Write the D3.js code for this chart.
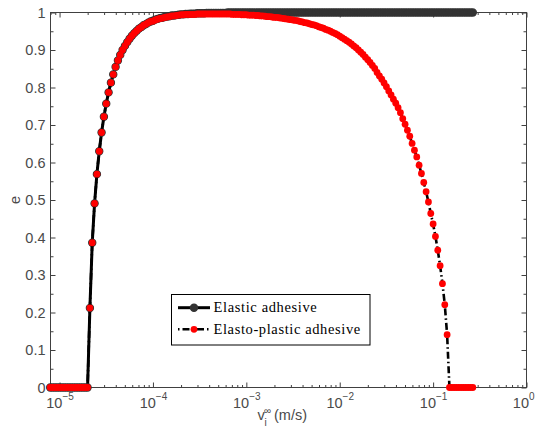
<!DOCTYPE html>
<html><head><meta charset="utf-8">
<script src="https://cdn.jsdelivr.net/npm/d3@7"></script>
<style>html,body{margin:0;padding:0;background:#fff;}svg{display:block;}</style>
</head><body>
<svg id="chart" width="536" height="430"></svg>
<script>
// log10 of impact velocity v_i (m/s)
const vExp = [-5.100,-5.075,-5.050,-5.025,-5.000,-4.975,-4.950,-4.925,-4.900,-4.875,
-4.850,-4.825,-4.800,-4.775,-4.750,-4.725,-4.700,-4.675,-4.650,-4.625,
-4.600,-4.575,-4.550,-4.525,-4.500,-4.475,-4.450,-4.425,-4.400,-4.375,
-4.350,-4.325,-4.300,-4.275,-4.250,-4.225,-4.200,-4.175,-4.150,-4.125,
-4.100,-4.075,-4.050,-4.025,-4.000,-3.975,-3.950,-3.925,-3.900,-3.875,
-3.850,-3.825,-3.800,-3.775,-3.750,-3.725,-3.700,-3.675,-3.650,-3.625,
-3.600,-3.575,-3.550,-3.525,-3.500,-3.475,-3.450,-3.425,-3.400,-3.375,
-3.350,-3.325,-3.300,-3.275,-3.250,-3.225,-3.200,-3.175,-3.150,-3.125,
-3.100,-3.075,-3.050,-3.025,-3.000,-2.975,-2.950,-2.925,-2.900,-2.875,
-2.850,-2.825,-2.800,-2.775,-2.750,-2.725,-2.700,-2.675,-2.650,-2.625,
-2.600,-2.575,-2.550,-2.525,-2.500,-2.475,-2.450,-2.425,-2.400,-2.375,
-2.350,-2.325,-2.300,-2.275,-2.250,-2.225,-2.200,-2.175,-2.150,-2.125,
-2.100,-2.075,-2.050,-2.025,-2.000,-1.975,-1.950,-1.925,-1.900,-1.875,
-1.850,-1.825,-1.800,-1.775,-1.750,-1.725,-1.700,-1.675,-1.650,-1.625,
-1.600,-1.575,-1.550,-1.525,-1.500,-1.475,-1.450,-1.425,-1.400,-1.375,
-1.350,-1.325,-1.300,-1.275,-1.250,-1.225,-1.200,-1.175,-1.150,-1.125,
-1.100,-1.075,-1.050,-1.025,-1.000,-0.975,-0.950,-0.925,-0.900,-0.875,
-0.850,-0.825,-0.800,-0.775,-0.750,-0.725,-0.700,-0.675,-0.650,-0.625,
-0.600,-0.575];

// coefficient of restitution, elastic adhesive
const eElastic = [0,0,0,0,0,0,0,0,0,0,
0,0,0,0,0,0,0,0.212,0.386,0.491,
0.569,0.630,0.680,0.722,0.757,0.787,0.813,0.835,0.855,0.872,
0.887,0.900,0.911,0.921,0.930,0.938,0.945,0.951,0.957,0.961,
0.966,0.969,0.973,0.976,0.978,0.981,0.983,0.985,0.986,0.988,
0.989,0.990,0.992,0.992,0.993,0.994,0.995,0.995,0.996,0.996,
0.997,0.997,0.997,0.998,0.998,0.998,0.998,0.999,0.999,0.999,
0.999,0.999,0.999,0.999,0.999,0.999,1,1,1,1,
1,1,1,1,1,1,1,1,1,1,
1,1,1,1,1,1,1,1,1,1,
1,1,1,1,1,1,1,1,1,1,
1,1,1,1,1,1,1,1,1,1,
1,1,1,1,1,1,1,1,1,1,
1,1,1,1,1,1,1,1,1,1,
1,1,1,1,1,1,1,1,1,1,
1,1,1,1,1,1,1,1,1,1,
1,1,1,1,1,1,1,1,1,1,
1,1,1,1,1,1,1,1,1,1,
1,1];

// coefficient of restitution, elasto-plastic adhesive
const eElastoPlastic = [0,0,0,0,0,0,0,0,0,0,
0,0,0,0,0,0,0,0.212,0.386,0.491,
0.569,0.630,0.680,0.722,0.757,0.787,0.813,0.835,0.855,0.872,
0.887,0.900,0.911,0.921,0.930,0.938,0.945,0.951,0.957,0.961,
0.966,0.969,0.973,0.976,0.977,0.980,0.982,0.984,0.985,0.987,
0.988,0.989,0.991,0.991,0.992,0.993,0.994,0.994,0.995,0.995,
0.995,0.995,0.995,0.996,0.996,0.996,0.996,0.996,0.996,0.996,
0.996,0.996,0.996,0.996,0.996,0.996,0.996,0.996,0.995,0.995,
0.995,0.995,0.994,0.994,0.994,0.993,0.993,0.993,0.992,0.992,
0.991,0.991,0.990,0.989,0.989,0.988,0.987,0.987,0.986,0.985,
0.984,0.983,0.982,0.981,0.980,0.979,0.978,0.976,0.975,0.973,
0.972,0.970,0.968,0.967,0.965,0.962,0.960,0.958,0.955,0.953,
0.950,0.947,0.944,0.941,0.937,0.933,0.929,0.925,0.921,0.916,
0.911,0.906,0.900,0.894,0.888,0.881,0.874,0.867,0.859,0.851,
0.840,0.831,0.822,0.812,0.802,0.791,0.780,0.769,0.758,0.746,
0.733,0.717,0.702,0.686,0.670,0.651,0.633,0.615,0.593,0.571,
0.547,0.522,0.495,0.464,0.436,0.403,0.366,0.325,0.277,0.221,
0.141,0,0,0,0,0,0,0,0,0,
0,0];

const seriesNames = ["Elastic adhesive", "Elasto-plastic adhesive"];
const xTickExps = [-5, -4, -3, -2, -1, 0];
const yTicks = [0, 0.1, 0.2, 0.3, 0.4, 0.5, 0.6, 0.7, 0.8, 0.9, 1];
const yTickLabels = ["0","0.1","0.2","0.3","0.4","0.5","0.6","0.7","0.8","0.9","1"];
const yMinorTicks = [0.05, 0.15, 0.25, 0.35, 0.45, 0.55, 0.65, 0.75, 0.85, 0.95];
const xDomain = [8e-6, 1];
const yDomain = [0, 1];

const svg = d3.select("#chart");
const W = 536;
const L = 50.5, R = 526.5, T = 12.5, B = 387.5;
const x = d3.scaleLog().domain(xDomain).range([L, R]);
const y = d3.scaleLinear().domain(yDomain).range([B, T]);
const axisColor = "#404040";
const labelColor = "#4a4a4a";
const tickFont = "'Liberation Sans', Arial, sans-serif";
const fs = 14.5;

const majorX = xTickExps.map(p => Math.pow(10, p));
const minorX = x.ticks().filter(v => !majorX.some(m => Math.abs(m - v) / v < 1e-9));

function styleAxis(g) {
  g.select(".domain").remove();
  g.selectAll("line").attr("stroke", axisColor).attr("stroke-width", 1);
  g.selectAll("text").remove();
}
const noLab = () => "";
svg.append("g").attr("transform", `translate(0,${B})`).call(d3.axisBottom(x).tickValues(majorX).tickSize(-5).tickFormat(noLab)).call(styleAxis);
svg.append("g").attr("transform", `translate(0,${B})`).call(d3.axisBottom(x).tickValues(minorX).tickSize(-2.5).tickFormat(noLab)).call(styleAxis);
svg.append("g").attr("transform", `translate(0,${T})`).call(d3.axisTop(x).tickValues(majorX).tickSize(-5).tickFormat(noLab)).call(styleAxis);
svg.append("g").attr("transform", `translate(0,${T})`).call(d3.axisTop(x).tickValues(minorX).tickSize(-2.5).tickFormat(noLab)).call(styleAxis);
svg.append("g").attr("transform", `translate(${L},0)`).call(d3.axisLeft(y).tickValues(yTicks).tickSize(-5).tickFormat(noLab)).call(styleAxis);
svg.append("g").attr("transform", `translate(${L},0)`).call(d3.axisLeft(y).tickValues(yMinorTicks).tickSize(-3).tickFormat(noLab)).call(styleAxis);
svg.append("g").attr("transform", `translate(${R},0)`).call(d3.axisRight(y).tickValues(yTicks).tickSize(-5).tickFormat(noLab)).call(styleAxis);
svg.append("g").attr("transform", `translate(${R},0)`).call(d3.axisRight(y).tickValues(yMinorTicks).tickSize(-3).tickFormat(noLab)).call(styleAxis);

svg.append("rect").attr("x", L).attr("y", T).attr("width", R - L).attr("height", B - T)
  .attr("fill", "none").attr("stroke", axisColor).attr("stroke-width", 1);

// y tick labels
svg.append("g").selectAll("text").data(yTicks).join("text")
  .attr("x", L - 5).attr("y", d => y(d)).attr("dy", "0.36em")
  .attr("text-anchor", "end").attr("font-family", tickFont).attr("font-size", fs)
  .attr("fill", labelColor).text((d, i) => yTickLabels[i]);

// x tick labels 10^p
const xl = svg.append("g").selectAll("text").data(xTickExps).join("text")
  .attr("x", d => x(Math.pow(10, d)) + 0.5).attr("y", 408)
  .attr("text-anchor", "middle").attr("font-family", tickFont).attr("font-size", fs)
  .attr("fill", labelColor);
xl.append("tspan").text("10");
xl.append("tspan").attr("dy", -8).attr("font-size", 10).text(d => d < 0 ? "\u2212" + Math.abs(d) : String(d));
// keep the last label inside the picture
xl.each(function() {
  const bb = this.getBBox();
  const over = bb.x + bb.width - (W - 1);
  if (over > 0) d3.select(this).attr("x", +d3.select(this).attr("x") - over);
});

// axis titles
const xt = svg.append("text").attr("font-family", tickFont).attr("font-size", fs).attr("fill", labelColor);
xt.append("tspan").attr("x", 257.5).attr("y", 419.5).text("v");
xt.append("tspan").attr("x", 264.5).attr("y", 425.5).attr("font-size", 10).text("i");
xt.append("tspan").attr("x", 264).attr("y", 413.5).attr("font-size", 10).text("\u221E");
xt.append("tspan").attr("x", 274).attr("y", 419.5).text("(m/s)");

svg.append("text").attr("transform", "translate(19.5,200) rotate(-90)")
  .attr("text-anchor", "middle").attr("font-family", tickFont).attr("font-size", fs)
  .attr("fill", labelColor).text("e");

// data
const pts1 = vExp.map((p, i) => ({ v: Math.pow(10, p), e: eElastic[i] }));
const pts2 = vExp.map((p, i) => ({ v: Math.pow(10, p), e: eElastoPlastic[i] }));
const line = d3.line().x(d => x(d.v)).y(d => y(d.e));

svg.append("path").datum(pts1).attr("d", line).attr("fill", "none")
  .attr("stroke", "#000").attr("stroke-width", 3).attr("stroke-linejoin", "round");
svg.append("g").selectAll("circle").data(pts1).join("circle")
  .attr("cx", d => x(d.v)).attr("cy", d => y(d.e)).attr("r", 3.6)
  .attr("fill", "#333").attr("stroke", "#333").attr("stroke-width", 1.2);

svg.append("path").datum(pts2).attr("d", line).attr("fill", "none")
  .attr("stroke", "#000").attr("stroke-width", 2.6).attr("stroke-dasharray", "7,3,1.5,3");
svg.append("g").selectAll("circle").data(pts2).join("circle")
  .attr("cx", d => x(d.v)).attr("cy", d => y(d.e)).attr("r", 3.4)
  .attr("fill", "#ff0000");

// legend
const lg = svg.append("g");
lg.append("rect").attr("x", 171.5).attr("y", 294.5).attr("width", 198.5).attr("height", 50.5)
  .attr("fill", "#fff").attr("stroke", "#000").attr("stroke-width", 1);
const rows = [307.7, 329.3];
lg.append("line").attr("x1", 178).attr("x2", 210).attr("y1", rows[0]).attr("y2", rows[0])
  .attr("stroke", "#000").attr("stroke-width", 3);
lg.append("circle").attr("cx", 194).attr("cy", rows[0]).attr("r", 3.6)
  .attr("fill", "#333").attr("stroke", "#333").attr("stroke-width", 1.2);
lg.append("line").attr("x1", 178).attr("x2", 210).attr("y1", rows[1]).attr("y2", rows[1])
  .attr("stroke", "#000").attr("stroke-width", 2.6).attr("stroke-dasharray", "1.5,3,7,3");
lg.append("circle").attr("cx", 194).attr("cy", rows[1]).attr("r", 3.4).attr("fill", "#ff0000");
const legW = [103.3, 146.7];
lg.selectAll("text.lab").data(seriesNames).join("text").attr("class", "lab")
  .attr("x", 213.5).attr("y", (d, i) => rows[i] + 4.6)
  .attr("font-family", "'Liberation Serif', 'Times New Roman', serif").attr("font-size", 14.5)
  .attr("fill", "#000").attr("textLength", (d, i) => legW[i]).attr("lengthAdjust", "spacing")
  .text(d => d);
</script>
</body></html>
